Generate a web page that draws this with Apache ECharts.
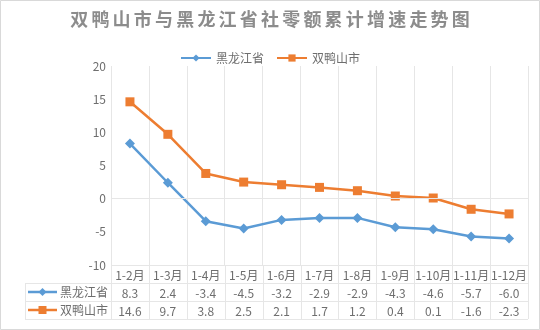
<!DOCTYPE html>
<html><head><meta charset="utf-8">
<script src="https://cdn.jsdelivr.net/npm/echarts@6/dist/echarts.min.js"></script>
<style>html,body{margin:0;padding:0;background:#fff}#c{width:540px;height:330px}</style>
</head><body><div id="c"></div>
<script>
const titleText = '双鸭山市与黑龙江省社零额累计增速走势图';
const categories = ['1-2月','1-3月','1-4月','1-5月','1-6月','1-7月','1-8月','1-9月','1-10月','1-11月','1-12月'];
const seriesNames = ['黑龙江省','双鸭山市'];
const hlj = [8.3, 2.4, -3.4, -4.5, -3.2, -2.9, -2.9, -4.3, -4.6, -5.7, -6.0];
const sys = [14.6, 9.7, 3.8, 2.5, 2.1, 1.7, 1.2, 0.4, 0.1, -1.6, -2.3];
const yMin = -10, yMax = 20, yStep = 5;

const BLUE = '#5B9BD5', ORANGE = '#ED7D31', TXT = '#6e6e6e', GRID = '#e6e6e6';
const GL = 111, GR = 528, GT = 66, GB = 265, ROW = 18, TL = 25;
const FONT = '"Noto Sans CJK SC", "Noto Sans", sans-serif';

const chart = echarts.init(document.getElementById('c'), null, {renderer: 'canvas'});
const n = categories.length;
const cw = (GR - GL) / n;

const graphics = [];
// outer border
graphics.push({type:'rect', shape:{x:0.5,y:0.5,width:539,height:329}, style:{fill:'none', stroke:'#d9d9d9', lineWidth:1}, silent:true});
// table horizontal lines
[GB, GB+ROW, GB+2*ROW, GB+3*ROW].forEach((y, i) => {
  graphics.push({type:'line', shape:{x1: i === 0 ? GL : TL, y1:y+0.5, x2:GR, y2:y+0.5}, style:{stroke:GRID, lineWidth:1}, silent:true});
});
// table vertical lines
for (let i = 0; i <= n; i++) {
  const x = Math.round(GL + i * cw) + 0.5;
  graphics.push({type:'line', shape:{x1:x, y1:GB, x2:x, y2:GB+3*ROW}, style:{stroke:GRID, lineWidth:1}, silent:true});
}
graphics.push({type:'line', shape:{x1:TL+0.5, y1:GB+ROW, x2:TL+0.5, y2:GB+3*ROW}, style:{stroke:GRID, lineWidth:1}, silent:true});
// row legends
const rowColors = [BLUE, ORANGE];
seriesNames.forEach((name, i) => {
  const cy = GB + ROW * (i + 1) + ROW / 2;
  graphics.push({type:'line', shape:{x1:28, y1:cy, x2:57, y2:cy}, style:{stroke:rowColors[i], lineWidth:2.5}, silent:true});
  if (i === 0) {
    graphics.push({type:'polygon', shape:{points:[[42.5,cy-4],[46.5,cy],[42.5,cy+4],[38.5,cy]]}, style:{fill:BLUE}, silent:true});
  } else {
    graphics.push({type:'rect', shape:{x:38.5,y:cy-4,width:8,height:8}, style:{fill:ORANGE}, silent:true});
  }
  graphics.push({type:'text', x:60, y:cy, style:{text:name, fill:TXT, font:'12px ' + FONT, textVerticalAlign:'middle', verticalAlign:'middle'}, silent:true});
});

const tableAxis = (data, offset) => ({
  type:'category', data: data, position:'bottom', offset: offset, gridIndex:0,
  axisLine:{show:false}, axisTick:{show:false}, splitLine:{show:false},
  axisLabel:{color:TXT, fontSize:12, fontFamily:FONT, margin:4, interval:0}
});

chart.setOption({
  animation:false,
  backgroundColor:'#fff',
  title:{
    text: titleText.split('').map(c => '{c|' + c + '}').join(''),
    left:'center', top:5,
    textStyle:{
      rich:{c:{fontSize:18, fontWeight:'bold', color:'#8c8c8c', fontFamily:FONT, padding:[0,1.6]}}
    }
  },
  legend:{
    data: seriesNames, top:47, left:'center', itemWidth:30, itemHeight:9, itemGap:12,
    textStyle:{color:TXT, fontSize:12, fontFamily:FONT}
  },
  grid:{left:GL, right:540-GR, top:GT, bottom:330-GB, containLabel:false},
  xAxis:[
    {type:'category', data:categories, position:'bottom', boundaryGap:true,
     axisLine:{show:false}, axisTick:{show:false},
     splitLine:{show:true, lineStyle:{color:GRID, width:1}},
     axisLabel:{color:TXT, fontSize:12, fontFamily:FONT, margin:4, interval:0}},
    tableAxis(hlj.map(v => v.toFixed(1)), ROW),
    tableAxis(sys.map(v => v.toFixed(1)), ROW * 2)
  ],
  yAxis:{type:'value', min:yMin, max:yMax, interval:yStep,
    axisLine:{show:false}, axisTick:{show:false}, splitLine:{show:false},
    axisLabel:{color:TXT, fontSize:12, fontFamily:FONT, margin:5}},
  series:[
    {name:seriesNames[0], type:'line', data:hlj, xAxisIndex:0, color:BLUE,
     symbol:'diamond', symbolSize:10, lineStyle:{width:2.5, color:BLUE}, itemStyle:{color:BLUE},
     markLine:{silent:true, symbol:'none', label:{show:false}, lineStyle:{color:GRID, width:1, type:'solid'}, data:[{yAxis:0}]}},
    {name:seriesNames[1], type:'line', data:sys, xAxisIndex:0, color:ORANGE,
     symbol:'rect', symbolSize:9, lineStyle:{width:2.5, color:ORANGE}, itemStyle:{color:ORANGE}}
  ],
  graphic: graphics
});
</script></body></html>
